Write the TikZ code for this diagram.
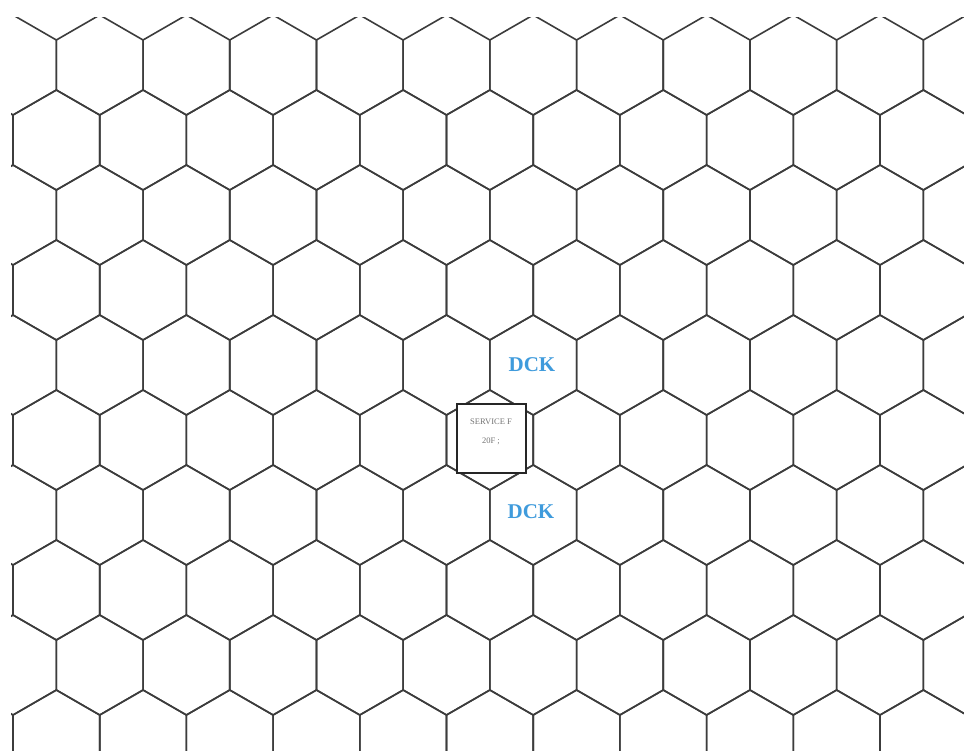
\documentclass[tikz,border=0pt]{standalone}
\usepackage{fontspec}
\setmainfont{Liberation Serif}
\definecolor{dckblue}{HTML}{3F9BDC}
\definecolor{hexline}{HTML}{3C3C3C}
\tikzset{
  hexedge/.style={draw=hexline, line width=1.6pt, line join=miter},
  dcklabel/.style={text=dckblue, font=\bfseries\fontsize{21}{21}\selectfont, inner sep=0pt},
  plaque/.style={draw=black!85, line width=1.4pt, fill=white, minimum width=69pt, minimum height=69pt, inner sep=0pt},
  plaquetext/.style={text=black!55, font=\fontsize{8.5}{19}\selectfont, align=center, inner sep=0pt}
}
\begin{document}
\begin{tikzpicture}[x=1pt,y=-1pt]
\useasboundingbox (0,0) rectangle (964,750);
\fill[white] (0,0) rectangle (964,750);
\begin{scope}
\clip (11,17) rectangle (964,750);
\foreach \r in {0,...,9} {
  \pgfmathsetmacro{\cy}{65+75*\r}
  \pgfmathsetmacro{\off}{mod(\r,2)==0 ? 13 : -30.35}
  \foreach \k in {0,...,11} {
    \pgfmathsetmacro{\cx}{\off+86.7*\k}
    \draw[hexedge] (\cx,\cy-50) -- (\cx+43.35,\cy-25) -- (\cx+43.35,\cy+25) -- (\cx,\cy+50) -- (\cx-43.35,\cy+25) -- (\cx-43.35,\cy-25) -- cycle;
  }
}
\end{scope}
\node[plaque] (box) at (491.5,438.5) {};
\node[plaquetext] (boxtext) at (491,432) {SERVICE F\\20F ;};
\node[dcklabel] (dckN) at (532,365) {DCK};
\node[dcklabel] (dckS) at (531,512) {DCK};
\end{tikzpicture}
\end{document}
